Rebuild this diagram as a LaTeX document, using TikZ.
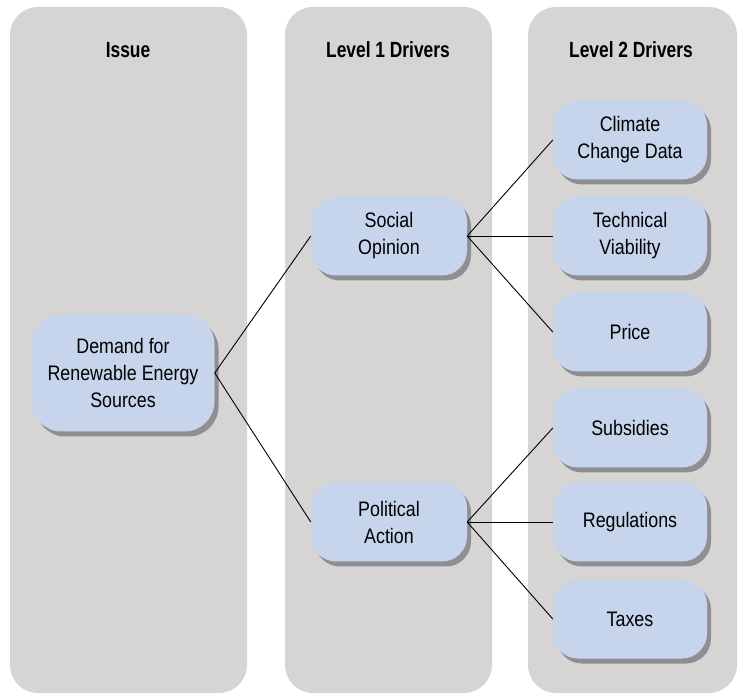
\documentclass[tikz,border=0pt]{standalone}
\usepackage{fontspec}
\setmainfont{Liberation Sans}[FakeStretch=0.85]
\newfontfamily\headfont{Liberation Sans}[FakeStretch=0.79]
\usepackage{tikz}
\usetikzlibrary{shadows}

\definecolor{colgrey}{HTML}{D6D5D4}
\definecolor{boxblue}{HTML}{C6D4EC}
\definecolor{shadowgrey}{HTML}{8E8E93}

\begin{document}
\begin{tikzpicture}[x=1pt, y=-1pt,
		head/.style={font=\headfont\bfseries\fontsize{22}{26}\selectfont},
		driver/.style={fill=boxblue, rounded corners=25pt, align=center,
			minimum width=154pt, minimum height=79pt, inner sep=2pt,
			font=\fontsize{21}{27}\selectfont,
			drop shadow={shadow xshift=4pt, shadow yshift=-5pt, fill=shadowgrey, opacity=1}},
		link/.style={line width=0.9pt}]
			\useasboundingbox (0,0) rectangle (745,700);
			\fill[colgrey, rounded corners=28pt] (10,7) rectangle (247,693);
			\fill[colgrey, rounded corners=28pt] (285,7) rectangle (492,693);
			\fill[colgrey, rounded corners=28pt] (528,7) rectangle (737,693);
			\node[head] (issue) at (128,50) {Issue};
			\node[head] (lvlone) at (388,50) {Level 1 Drivers};
			\node[head] (lvltwo) at (631,50) {Level 2 Drivers};
			\node[driver, minimum width=183pt, minimum height=117pt, rounded corners=30pt]
				(demand) at (123,373) {Demand for\\Renewable Energy\\Sources};
			\node[driver, minimum width=156pt] (social) at (389,236) {Social\\Opinion};
			\node[driver, minimum width=156pt] (political) at (389,522) {Political\\Action};
			\node[driver] (climate) at (630,140) {Climate\\Change Data};
			\node[driver] (technical) at (630,236) {Technical\\Viability};
			\node[driver] (price) at (630,332) {Price};
			\node[driver] (subsidies) at (630,428) {Subsidies};
			\node[driver] (regulations) at (630,522) {Regulations};
			\node[driver] (taxes) at (630,619) {Taxes};
			\draw[link] (social.west) -- (demand.east) -- (political.west);
			\draw[link] (climate.west) -- (social.east) -- (price.west);
			\draw[link] (social.east) -- (technical.west);
			\draw[link] (subsidies.west) -- (political.east) -- (taxes.west);
			\draw[link] (political.east) -- (regulations.west);
		\end{tikzpicture}
\end{document}
